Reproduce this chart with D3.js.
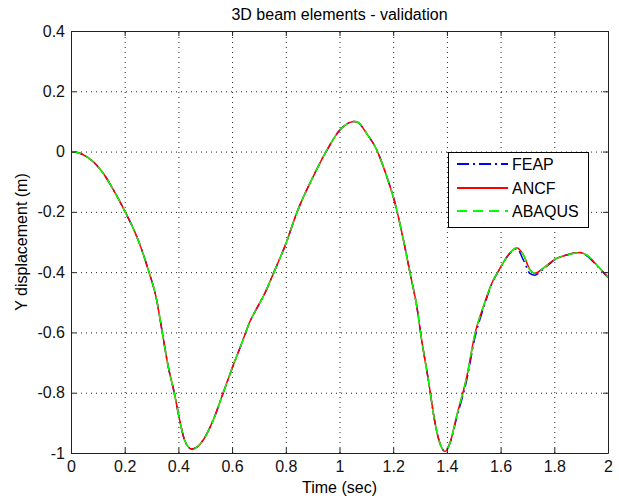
<!DOCTYPE html>
<html>
<head>
<meta charset="utf-8">
<script src="https://cdn.jsdelivr.net/npm/d3@7"></script>
<style>
  body { margin: 0; background: #fff; }
  text { font-family: "Liberation Sans", Arial, sans-serif; }
</style>
</head>
<body>
<div id="container"></div>
<script>
/* DATA */
const time = [0, 0.04, 0.083, 0.12, 0.158, 0.2, 0.245, 0.288, 0.319, 0.34, 0.362, 0.385, 0.4, 0.425, 0.45,
  0.47, 0.493, 0.53, 0.567, 0.598, 0.636, 0.667, 0.7, 0.722, 0.754, 0.803, 0.84, 0.902, 0.952, 1.002,
  1.039, 1.055, 1.07, 1.101, 1.139, 1.176, 1.207, 1.238, 1.263, 1.288, 1.306, 1.331, 1.356, 1.374, 1.393, 1.411,
  1.436, 1.474, 1.505, 1.536, 1.567, 1.598, 1.629, 1.66, 1.685, 1.71, 1.728, 1.759, 1.803, 1.846, 1.896,
  1.92, 1.958, 2.0];

const feap = [0, -0.008, -0.034, -0.072, -0.127, -0.197, -0.282, -0.393, -0.492, -0.6, -0.713, -0.802, -0.87, -0.962, -0.987,
  -0.98, -0.956, -0.89, -0.8, -0.724, -0.636, -0.563, -0.507, -0.47, -0.404, -0.299, -0.205, -0.083, 0.003, 0.072,
  0.097, 0.1, 0.096, 0.06, 0.005, -0.083, -0.172, -0.293, -0.404, -0.514, -0.625, -0.758, -0.901, -0.968, -0.995, -0.968,
  -0.885, -0.757, -0.615, -0.52, -0.44, -0.387, -0.343, -0.322, -0.36, -0.405, -0.41, -0.39, -0.358, -0.343, -0.335,
  -0.345, -0.378, -0.418];

const ancf = [0, -0.008, -0.034, -0.072, -0.127, -0.197, -0.282, -0.393, -0.492, -0.6, -0.713, -0.802, -0.87, -0.962, -0.987,
  -0.98, -0.956, -0.89, -0.8, -0.724, -0.636, -0.563, -0.507, -0.47, -0.404, -0.299, -0.205, -0.083, 0.003, 0.072,
  0.097, 0.1, 0.096, 0.06, 0.005, -0.083, -0.172, -0.293, -0.404, -0.514, -0.625, -0.758, -0.901, -0.968, -0.995, -0.968,
  -0.879, -0.747, -0.603, -0.514, -0.437, -0.387, -0.343, -0.319, -0.343, -0.393, -0.404, -0.387, -0.357, -0.343, -0.335,
  -0.343, -0.376, -0.417];

const abaqus = [0, -0.008, -0.034, -0.072, -0.127, -0.197, -0.282, -0.393, -0.492, -0.6, -0.713, -0.802, -0.87, -0.962, -0.987,
  -0.98, -0.956, -0.89, -0.8, -0.724, -0.636, -0.563, -0.507, -0.47, -0.404, -0.299, -0.205, -0.083, 0.003, 0.072,
  0.097, 0.1, 0.096, 0.06, 0.005, -0.083, -0.172, -0.293, -0.404, -0.514, -0.625, -0.758, -0.901, -0.968, -0.995, -0.968,
  -0.879, -0.747, -0.603, -0.514, -0.437, -0.387, -0.343, -0.319, -0.343, -0.393, -0.404, -0.387, -0.357, -0.343, -0.335,
  -0.343, -0.376, -0.417];

const seriesNames = ["FEAP", "ANCF", "ABAQUS"];
const xTicks = [0, 0.2, 0.4, 0.6, 0.8, 1, 1.2, 1.4, 1.6, 1.8, 2];
const yTicks = [-1, -0.8, -0.6, -0.4, -0.2, 0, 0.2, 0.4];

/* CONSTANTS AND GLOBALS */
const margin = { top: 31, right: 11, bottom: 46, left: 71 };
const width = 619 - margin.left - margin.right;
const height = 499 - margin.top - margin.bottom;

const series = [
  { name: seriesNames[0], values: feap, color: "#0000ff", dash: "12,4,2,4" },
  { name: seriesNames[1], values: ancf, color: "#ff0000", dash: "none" },
  { name: seriesNames[2], values: abaqus, color: "#00ff00", dash: "10,6" }
];

// scales
const xScale = d3.scaleLinear().domain([0, 2]).range([0, width]);
const yScale = d3.scaleLinear().domain([-1, 0.4]).range([height, 0]);

const svg = d3.select("#container")
  .append("svg")
  .attr("width", 619)
  .attr("height", 499);

const g = svg.append("g")
  .attr("transform", `translate(${margin.left},${margin.top})`);

// grid
const xGrid = g.append("g")
  .attr("transform", `translate(0,${height})`)
  .call(d3.axisBottom(xScale).tickValues(xTicks).tickSize(-height).tickFormat(""));
const yGrid = g.append("g")
  .call(d3.axisLeft(yScale).tickValues(yTicks).tickSize(-width).tickFormat(""));
[xGrid, yGrid].forEach(s => {
  s.select(".domain").remove();
  s.selectAll("line").attr("stroke", "#222").attr("stroke-dasharray", "1,4");
});

// lines
const line = d3.line()
  .x((d, i) => xScale(time[i]))
  .y(d => yScale(d))
  .curve(d3.curveMonotoneX);

g.selectAll("path.series")
  .data(series)
  .join("path")
  .attr("class", "series")
  .attr("d", d => line(d.values))
  .style("fill", "none")
  .style("stroke", d => d.color)
  .style("stroke-width", 1.5)
  .style("stroke-dasharray", d => d.dash);

// axes (ticks point inward, on all four sides)
const fmt = d => String(d);
const xAxis = g.append("g")
  .attr("transform", `translate(0,${height})`)
  .call(d3.axisBottom(xScale).tickValues(xTicks).tickSizeInner(-5).tickSizeOuter(0).tickPadding(8).tickFormat(fmt));
const yAxis = g.append("g")
  .call(d3.axisLeft(yScale).tickValues(yTicks).tickSizeInner(-5).tickSizeOuter(0).tickPadding(6).tickFormat(fmt));
const xTop = g.append("g")
  .call(d3.axisTop(xScale).tickValues(xTicks).tickSizeInner(-5).tickSizeOuter(0).tickFormat(""));
const yRight = g.append("g")
  .attr("transform", `translate(${width},0)`)
  .call(d3.axisRight(yScale).tickValues(yTicks).tickSizeInner(-5).tickSizeOuter(0).tickFormat(""));

[xAxis, yAxis, xTop, yRight].forEach(s => {
  s.selectAll("path, line").attr("stroke", "#222");
  s.selectAll("text").attr("font-size", 16).attr("fill", "#111")
    .style("font-family", "'Liberation Sans', Arial, sans-serif");
});

// title and labels
svg.append("text")
  .attr("x", margin.left + width / 2)
  .attr("y", 20)
  .attr("text-anchor", "middle")
  .attr("font-size", 16)
  .text("3D beam elements - validation");

svg.append("text")
  .attr("x", margin.left + width / 2)
  .attr("y", 493)
  .attr("text-anchor", "middle")
  .attr("font-size", 16)
  .text("Time (sec)");

svg.append("text")
  .attr("transform", `translate(27,${margin.top + height / 2}) rotate(-90)`)
  .attr("text-anchor", "middle")
  .attr("font-size", 16)
  .text("Y displacement (m)");

// legend
const legend = svg.append("g").attr("transform", "translate(448,152)");
legend.append("rect")
  .attr("x", 0.5)
  .attr("y", 0.5)
  .attr("width", 140)
  .attr("height", 75)
  .attr("fill", "#fff")
  .attr("stroke", "#000");

const items = legend.selectAll("g.item")
  .data(series)
  .join("g")
  .attr("class", "item")
  .attr("transform", (d, i) => `translate(0,${Math.round(12 + i * 23.5)})`);

items.append("line")
  .attr("x1", 9).attr("x2", 60)
  .style("stroke", d => d.color)
  .style("stroke-width", 2)
  .style("stroke-dasharray", d => d.dash);

items.append("text")
  .attr("x", 64)
  .attr("dy", "0.36em")
  .attr("font-size", 16)
  .text(d => d.name);
</script>
</body>
</html>
